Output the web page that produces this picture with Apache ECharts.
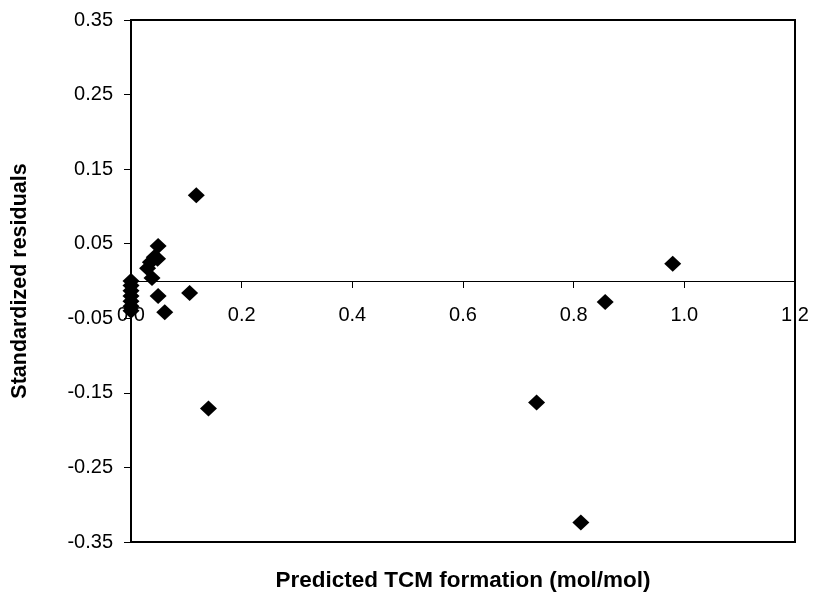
<!DOCTYPE html>
<html>
<head>
<meta charset="utf-8">
<script src="https://cdn.jsdelivr.net/npm/echarts@6/dist/echarts.min.js"></script>
<style>html,body{margin:0;padding:0;background:#fff;}#c{width:815px;height:604px;}</style>
</head>
<body>
<div id="c"></div>
<script>
var xTitle = "Predicted TCM formation (mol/mol)";
var yTitle = "Standardized residuals";
var predicted = [0.0, 0.0, 0.0, 0.0, 0.0, 0.0, 0.0,
  0.030, 0.035, 0.038, 0.042, 0.048, 0.049, 0.049, 0.061, 0.106,
  0.118, 0.140, 0.733, 0.813, 0.857, 0.979];
var residuals = [0.000, -0.006, -0.013, -0.020, -0.027, -0.034, -0.040,
  0.017, 0.025, 0.004, 0.032, 0.030, 0.047, -0.020, -0.042, -0.016,
  0.115, -0.171, -0.163, -0.324, -0.028, 0.023];

var points = predicted.map(function (x, i) { return [x, residuals[i]]; });

var chart = echarts.init(document.getElementById('c'));
var font = 'Liberation Sans, Arial, sans-serif';
var yMin = -0.35, yMax = 0.35;
var gridTop = 20, gridBottom = 62, H = 604;
var plotH = H - gridTop - gridBottom;
// distance from bottom of grid to the y=0 line, used to put the x axis on zero
var zeroOffset = -plotH * (0 - yMin) / (yMax - yMin);
chart.setOption({
  animation: false,
  grid: {left: 131, right: 20, top: gridTop, bottom: gridBottom, show: true, borderColor: '#000', borderWidth: 2, backgroundColor: 'transparent'},
  xAxis: {
    type: 'value', min: 0, max: 1.2, interval: 0.2,
    position: 'bottom', offset: zeroOffset,
    axisLine: {show: true, onZero: false, lineStyle: {color: '#000', width: 1}},
    axisTick: {show: true, inside: false, length: 7, lineStyle: {color: '#000', width: 1}},
    axisLabel: {color: '#000', fontSize: 20, fontFamily: font, margin: 24,
      formatter: function (v) { return v.toFixed(1); }},
    splitLine: {show: false}
  },
  yAxis: {
    type: 'value', min: yMin, max: yMax, interval: 0.1,
    axisLine: {show: true, onZero: false, lineStyle: {color: '#000', width: 2}},
    axisTick: {show: true, length: 7, lineStyle: {color: '#000', width: 1}},
    axisLabel: {color: '#000', fontSize: 20, fontFamily: font, margin: 18,
      formatter: function (v) { return v.toFixed(2); }},
    splitLine: {show: false}
  },
  series: [{
    type: 'scatter',
    data: points,
    symbol: 'diamond',
    symbolSize: [17, 16],
    itemStyle: {color: '#000', opacity: 1},
    clip: false
  }],
  graphic: [
    {type: 'text', x: 463, y: 581, style: {text: xTitle, font: 'bold 22.5px ' + font, fill: '#000', textAlign: 'center', textVerticalAlign: 'middle'}},
    {type: 'text', x: 20, y: 281, rotation: Math.PI / 2, style: {text: yTitle, font: 'bold 21.5px ' + font, fill: '#000', textAlign: 'center', textVerticalAlign: 'middle'}}
  ]
});
</script>
</body>
</html>
